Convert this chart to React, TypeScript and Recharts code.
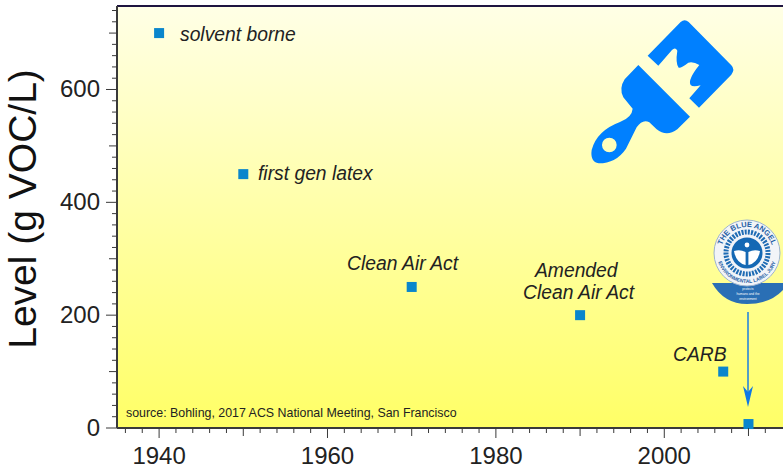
import { ScatterChart, Scatter, XAxis, YAxis, ReferenceArea, ReferenceLine } from "recharts";

const years = [1940, 1950, 1970, 1990, 2007, 2010];
const levels = [700, 450, 250, 200, 100, 7];

const xTicks = [
  1936, 1938, 1940, 1942, 1944, 1946, 1948, 1950, 1952, 1954, 1956, 1958, 1960, 1962, 1964, 1966,
  1968, 1970, 1972, 1974, 1976, 1978, 1980, 1982, 1984, 1986, 1988, 1990, 1992, 1994, 1996, 1998,
  2000, 2002, 2004, 2006, 2008, 2010, 2012,
];
const yTicks = [
  0, 20, 40, 60, 80, 100, 120, 140, 160, 180, 200, 220, 240, 260, 280, 300, 320, 340, 360, 380, 400,
  420, 440, 460, 480, 500, 520, 540, 560, 580, 600, 620, 640, 660, 680, 700, 720, 740,
];

const X_MIN = 1935;
const X_MAX = 2014.1;
const Y_MAX = 748;

const data = years.map((year, i) => ({ year, level: levels[i] }));

const AXIS = "#3a3a3a";
const TEXT = "#222222";
const MARKER = "#0a86cc";
const BLUE = "#0080ff";
const FONT = "'Liberation Sans', Arial, sans-serif";

function XTick({ x, y, payload }: any) {
  const v = payload.value;
  const len = v % 20 === 0 ? 10 : v % 10 === 0 ? 8 : 5;
  return (
    <g>
      <line x1={x} x2={x} y1={y} y2={y + len} stroke={AXIS} strokeWidth={1} />
      {v % 20 === 0 && (
        <text x={x} y={y + 36} textAnchor="middle" fontSize={24} fontFamily={FONT} fill={TEXT}>
          {v}
        </text>
      )}
    </g>
  );
}

function YTick({ x, y, payload }: any) {
  const v = payload.value;
  const len = v % 200 === 0 ? 11 : v % 100 === 0 ? 8 : 5;
  return (
    <g>
      <line x1={x - len} x2={x} y1={y} y2={y} stroke={AXIS} strokeWidth={1} />
      {v % 200 === 0 && (
        <text x={x - 17} y={y + 8} textAnchor="end" fontSize={24} fontFamily={FONT} fill={TEXT}>
          {v}
        </text>
      )}
    </g>
  );
}

function SquareMarker({ cx, cy }: any) {
  return <rect x={cx - 5} y={cy - 5} width={10} height={10} fill={MARKER} />;
}

function PaintBrush() {
  return (
    <g transform="translate(560,0) scale(0.3333)" fill={BLUE}>
      <path d="M263 167 L362 66 Q374 56 386 66 L514 196 Q526 208 514 224 L417 323 L388 295 L422 256 Q398 262 392 255 Q382 240 418 195 Q400 184 385 188 Q362 206 356 203 Q346 190 352 152 Q346 140 336 150 L295 197 Z" />
      <path
        fillRule="evenodd"
        d="M235 195 L390 350 L352 388 Q320 412 290 388 L268 367 Q248 356 230 382 L198 446 Q168 490 116 490 Q90 486 95 450 Q110 392 180 366 Q216 352 218 326 L190 292 Q176 266 194 238 Z M170 435 A22 22 0 1 0 126 435 A22 22 0 1 0 170 435 Z"
      />
    </g>
  );
}

function BlueAngel() {
  return (
    <g fontFamily={FONT}>
      <path d="M712 283 L783 283 L783 290 Q770 304 747 304 Q724 304 712 283 Z" fill="#2a6fb5" />
      <circle cx={747} cy={253} r={33} fill="#f2f4f8" stroke="#9db4cf" strokeWidth={1} />
      <circle cx={747} cy={253} r={21} fill="none" stroke="#1f6cb4" strokeWidth={5} strokeDasharray="2 1.2" />
      <circle cx={747} cy={253} r={15.5} fill="#1468b4" />
      <circle cx={747} cy={245} r={2.4} fill="#ffffff" />
      <path
        d="M734 251 Q740 249 745.6 252 L745.6 265 Q736 263 734 251 Z M760 251 Q754 249 748.4 252 L748.4 265 Q758 263 760 251 Z"
        fill="#ffffff"
      />
      <defs>
        <path id="angelTop" d="M721 253 A26 26 0 0 1 773 253" />
        <path id="angelBottom" d="M717 253 A30 30 0 0 0 777 253" />
      </defs>
      <text fontSize={7.5} fontWeight="bold" fill="#1f5fa5" textAnchor="middle">
        <textPath href="#angelTop" startOffset="50%">
          THE BLUE ANGEL
        </textPath>
      </text>
      <text fontSize={5} fontWeight="bold" fill="#1f5fa5" textAnchor="middle">
        <textPath href="#angelBottom" startOffset="50%">
          ENVIRONMENTAL LABEL JURY
        </textPath>
      </text>
      <g fontSize={3.2} fill="#ffffff" textAnchor="middle">
        <text x={748} y={290}>protects</text>
        <text x={748} y={295}>humans and the</text>
        <text x={748} y={300}>environment</text>
      </g>
    </g>
  );
}

function Annotations() {
  const label = { fontFamily: FONT, fontStyle: "italic", fontSize: 19.3, fill: TEXT } as const;
  return (
    <svg
      width={783}
      height={474}
      style={{ position: "absolute", left: 0, top: 0, pointerEvents: "none" }}
    >
      <text x={180} y={41} {...label}>solvent borne</text>
      <text x={258} y={180} {...label}>first gen latex</text>
      <text x={347} y={270} {...label}>Clean Air Act</text>
      <text x={535} y={277} {...label}>Amended</text>
      <text x={523} y={299} {...label}>Clean Air Act</text>
      <text x={673} y={361} {...label}>CARB</text>
      <text x={126} y={417} fontFamily={FONT} fontSize={12.4} fill={TEXT}>
        source: Bohling, 2017 ACS National Meeting, San Francisco
      </text>
      <PaintBrush />
      <BlueAngel />
      <line x1={748} x2={748} y1={312} y2={392} stroke="#1a7fe0" strokeWidth={1.5} />
      <path d="M743 386 L748 392 L753 386 L748 407 Z" fill="#0f78e6" />
    </svg>
  );
}

export default function App() {
  return (
    <div style={{ position: "absolute", left: 0, top: 0, width: 783, height: 474, background: "#ffffff" }}>
      <ScatterChart width={783} height={474} margin={{ top: 6, right: 0, bottom: 0, left: 0 }}>
        <defs>
          <linearGradient id="plotBg" x1="0" y1="0" x2="0" y2="1">
            <stop offset="0%" stopColor="#ffffe6" />
            <stop offset="100%" stopColor="#ffff66" />
          </linearGradient>
        </defs>
        <XAxis
          type="number"
          dataKey="year"
          domain={[X_MIN, X_MAX]}
          ticks={xTicks}
          interval={0}
          height={46}
          tick={<XTick />}
          tickLine={false}
          tickSize={0}
          tickMargin={0}
          stroke={AXIS}
          strokeWidth={2}
        />
        <YAxis
          type="number"
          dataKey="level"
          domain={[0, Y_MAX]}
          ticks={yTicks}
          interval={0}
          width={117}
          tick={<YTick />}
          tickLine={false}
          tickSize={0}
          tickMargin={0}
          stroke={AXIS}
          strokeWidth={2}
          label={{
            value: "Level (g VOC/L)",
            angle: -90,
            position: "insideLeft",
            dx: 17,
            dy: -8,
            style: { fontFamily: FONT, fontSize: 39, fill: "#111111", textAnchor: "middle" },
          }}
        />
        <ReferenceArea x1={X_MIN} x2={X_MAX} y1={0} y2={Y_MAX} fill="url(#plotBg)" fillOpacity={1} stroke="none" />
        <ReferenceLine y={Y_MAX} stroke="#1e1440" strokeWidth={2} />
        <Scatter data={data} shape={<SquareMarker />} isAnimationActive={false} />
      </ScatterChart>
      <Annotations />
    </div>
  );
}
